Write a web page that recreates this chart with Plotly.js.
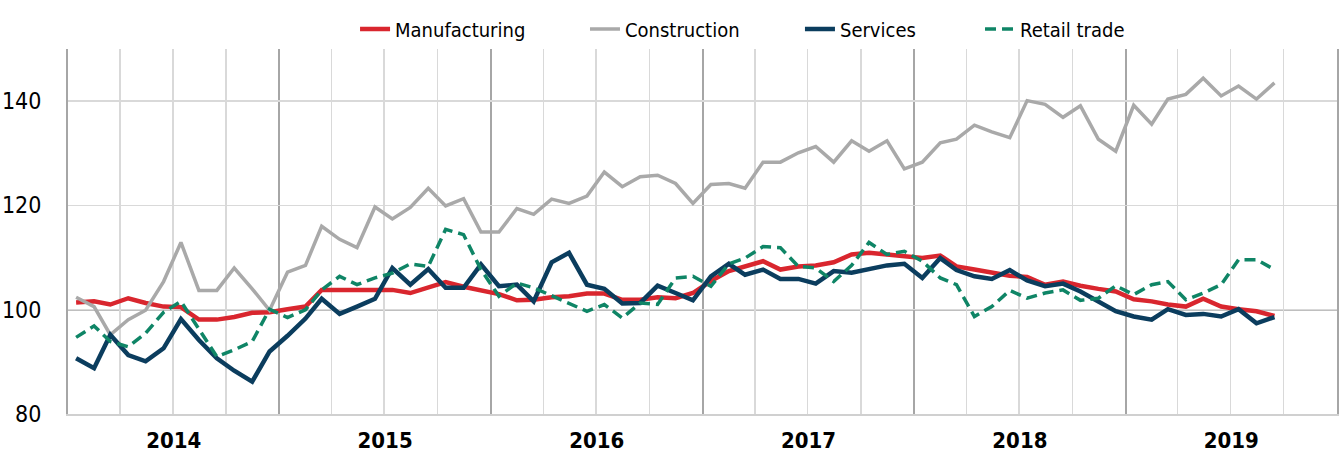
<!DOCTYPE html>
<html>
<head>
<meta charset="utf-8">
<script src="https://cdn.plot.ly/plotly-3.0.1.min.js"></script>
<style>html,body{margin:0;padding:0;background:#fff;}#chart{width:1342px;height:452px;}</style>
</head>
<body>
<div id="chart"></div>
<script>
// Monthly series, Jan 2014 – Sep 2019
const startYear = 2014, startMonth = 1, nMonths = 69;

const manufacturing = [
  101.4, 101.6, 101.0, 102.2, 101.3, 100.6, 100.5, 98.1, 98.1, 98.6, 99.4, 99.5,
  100.1, 100.6, 103.8, 103.8, 103.8, 104.0, 103.8, 103.2, 104.2, 105.3, 104.4, 103.8,
  103.0, 101.8, 101.9, 102.4, 102.6, 103.1, 103.1, 101.9, 101.9, 102.4, 102.2, 103.2,
  105.5, 107.4, 108.3, 109.3, 107.7, 108.3, 108.5, 109.1, 110.6, 110.9, 110.6, 110.3,
  109.9, 110.4, 108.3, 107.7, 107.2, 106.5, 106.3, 104.8, 105.4, 104.6, 104.0, 103.5,
  102.0, 101.6, 101.0, 100.6, 102.1, 100.6, 100.1, 99.7, 98.8
];
const construction = [
  102.4, 100.6, 95.2, 98.1, 99.9, 105.4, 112.9, 103.7, 103.7, 108.0, 104.0, 99.9,
  107.2, 108.5, 116.0, 113.5, 111.9, 119.7, 117.4, 119.6, 123.3, 119.9, 121.3, 114.9,
  114.9, 119.4, 118.3, 121.2, 120.4, 121.8, 126.4, 123.6, 125.5, 125.8, 124.2, 120.4,
  124.0, 124.2, 123.3, 128.3, 128.3, 130.1, 131.3, 128.3, 132.4, 130.4, 132.4, 127.0,
  128.3, 132.0, 132.7, 135.4, 134.1, 133.0, 140.1, 139.4, 136.9, 139.1, 132.7, 130.4,
  139.2, 135.6, 140.4, 141.3, 144.4, 141.0, 142.9, 140.4, 143.5
];
const services = [
  90.7, 88.8, 95.2, 91.3, 90.1, 92.6, 98.2, 94.2, 90.7, 88.3, 86.2, 92.0,
  95.0, 98.3, 102.1, 99.2, 100.6, 102.1, 108.0, 104.8, 107.8, 104.2, 104.2, 108.7,
  104.5, 104.8, 101.6, 109.1, 110.9, 104.8, 104.0, 101.2, 101.3, 104.6, 103.2, 101.8,
  106.4, 108.8, 106.7, 107.7, 105.9, 105.9, 105.0, 107.4, 107.1, 107.7, 108.5, 108.8,
  106.1, 109.9, 107.6, 106.4, 105.9, 107.6, 105.6, 104.5, 105.0, 103.5, 101.6, 99.7,
  98.7, 98.1, 100.1, 99.0, 99.2, 98.7, 100.1, 97.4, 98.6
];
const retail = [
  94.7, 96.9, 93.9, 92.9, 95.5, 99.5, 101.6, 96.2, 91.0, 92.3, 93.9, 100.1,
  98.5, 100.0, 103.8, 106.4, 104.8, 106.1, 107.0, 108.8, 108.3, 115.4, 114.4, 107.7,
  102.6, 105.1, 104.2, 102.7, 101.3, 99.7, 101.0, 98.4, 101.3, 101.0, 106.1, 106.4,
  104.5, 108.8, 109.9, 112.1, 111.9, 108.3, 108.0, 105.4, 108.5, 112.9, 110.6, 111.2,
  109.3, 106.1, 104.8, 98.7, 100.6, 103.7, 102.2, 103.2, 103.8, 101.8, 102.2, 104.6,
  102.9, 104.8, 105.4, 101.9, 103.2, 104.8, 109.6, 109.6, 107.7
];
const seriesNames = ['Manufacturing', 'Construction', 'Services', 'Retail trade'];
const yTicks = [80, 100, 120, 140];

// mid-month dates
const dates = [];
for (let i = 0; i < nMonths; i++) {
  const y = startYear + Math.floor((startMonth - 1 + i) / 12);
  const m = ((startMonth - 1 + i) % 12) + 1;
  dates.push(y + '-' + String(m).padStart(2, '0') + '-15');
}

const FONT = 'Liberation Sans Narrow, Arial Narrow, DejaVu Sans Condensed, sans-serif';

const traces = [
  {x: dates, y: manufacturing, name: seriesNames[0], type: 'scatter', mode: 'lines',
   line: {color: '#d9262e', width: 4.5}, legend: 'legend'},
  {x: dates, y: construction, name: seriesNames[1], type: 'scatter', mode: 'lines',
   line: {color: '#a9a9a9', width: 3.5}, legend: 'legend2'},
  {x: dates, y: services, name: seriesNames[2], type: 'scatter', mode: 'lines',
   line: {color: '#0b3d5e', width: 4.5}, legend: 'legend3'},
  {x: dates, y: retail, name: seriesNames[3], type: 'scatter', mode: 'lines',
   line: {color: '#0f8566', width: 3.5, dash: '11px,6px'}, legend: 'legend4'}
];

function leg(xp) {
  return {orientation: 'h', x: xp, xanchor: 'left', y: 1.055, yanchor: 'middle',
          font: {family: FONT, size: 20, color: '#000'}, bgcolor: 'rgba(0,0,0,0)', borderwidth: 0};
}

const layout = {
  width: 1342, height: 452,
  margin: {l: 68, r: 5, t: 49, b: 38},
  paper_bgcolor: '#fff', plot_bgcolor: '#fff',
  font: {family: FONT, color: '#000', size: 20},
  showlegend: true,
  legend: leg(0.2262),
  legend2: leg(0.4074),
  legend3: leg(0.5768),
  legend4: leg(0.7187),
  xaxis: {
    type: 'date',
    range: ['2014-01-01', '2020-01-01'],
    tick0: '2014-01-01', dtick: 'M12',
    ticklabelmode: 'period', tickformat: '%Y',
    tickfont: {family: FONT, size: 22, color: '#000', weight: 'bold'},
    ticklabelstandoff: 6,
    showgrid: true, gridcolor: '#a6a6a6', gridwidth: 2,
    minor: {dtick: 'M3', showgrid: true, gridcolor: '#d9d9d9', gridwidth: 1.5},
    ticks: '', zeroline: false,
    showline: true, linecolor: '#d0d0d0', linewidth: 1.5,
    fixedrange: true
  },
  yaxis: {
    range: [80, 150],
    tickvals: yTicks, ticktext: yTicks.map(String),
    tickfont: {family: FONT, size: 23, color: '#000'},
    showgrid: true, gridcolor: '#d9d9d9', gridwidth: 1.5,
    ticks: '', ticklabelstandoff: 20, zeroline: false,
    showline: true, mirror: true, linecolor: '#a6a6a6', linewidth: 2,
    fixedrange: true
  },
  shapes: [
    {type: 'line', xref: 'paper', x0: 0, x1: 1, yref: 'y', y0: 100, y1: 100,
     line: {color: '#000', width: 1.2}, layer: 'below'}
  ]
};

Plotly.newPlot('chart', traces, layout, {displayModeBar: false, staticPlot: true});
</script>
</body>
</html>
